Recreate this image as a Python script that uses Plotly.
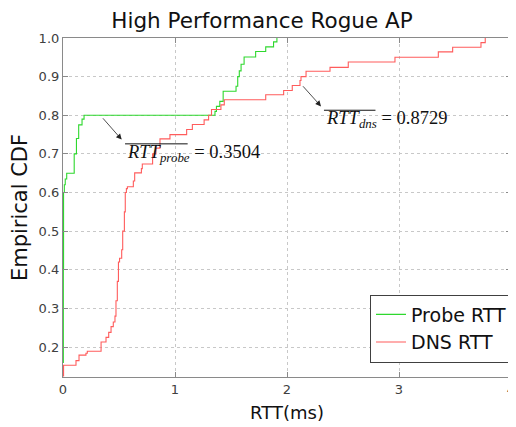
import plotly.graph_objects as go

# Empirical CDF step vertices (x = RTT in ms, y = CDF)
probe_x = [0.000, 0.003, 0.005, 0.012, 0.020, 0.033, 0.100, 0.120, 0.140, 0.170, 0.188,
           1.357, 1.370, 1.400, 1.430, 1.545, 1.560, 1.574, 1.590, 1.617, 1.720, 1.810, 1.880, 1.910]
probe_y = [0.160, 0.400, 0.600, 0.620, 0.635, 0.650, 0.700, 0.740, 0.775, 0.790, 0.800,
           0.810, 0.823, 0.836, 0.862, 0.875, 0.900, 0.915, 0.932, 0.951, 0.965, 0.977, 0.990, 1.000]

dns_x = [0.000, 0.005, 0.116, 0.143, 0.205, 0.217, 0.340, 0.384, 0.408, 0.429, 0.449, 0.464,
         0.473, 0.485, 0.495, 0.505, 0.524, 0.533, 0.548, 0.556, 0.566, 0.575, 0.628, 0.640,
         0.700, 0.708, 0.800, 0.830, 0.866, 0.955, 1.104, 1.155, 1.260, 1.300, 1.326, 1.410,
         1.440, 1.810, 1.970, 2.047, 2.116, 2.125, 2.170, 2.384, 2.547, 2.964, 3.351, 3.479,
         3.732, 3.770]
dns_y = [0.125, 0.153, 0.165, 0.179, 0.184, 0.189, 0.213, 0.225, 0.238, 0.253, 0.265, 0.280,
         0.320, 0.370, 0.420, 0.430, 0.452, 0.500, 0.550, 0.600, 0.610, 0.615, 0.630, 0.651,
         0.662, 0.674, 0.700, 0.715, 0.739, 0.750, 0.763, 0.776, 0.788, 0.800, 0.815, 0.827,
         0.840, 0.853, 0.864, 0.877, 0.890, 0.900, 0.914, 0.924, 0.938, 0.950, 0.964, 0.976,
         0.988, 1.000]

series_names = ["Probe RTT", "DNS RTT"]
title_text = "High Performance Rogue AP"
x_title = "RTT(ms)"
y_title = "Empirical CDF"
mean_probe = 0.3504
mean_dns = 0.8729

FONT = "'DejaVu Sans', sans-serif"
MATH = "'Liberation Serif', 'DejaVu Serif', serif"

fig = go.Figure()
fig.add_trace(go.Scatter(x=probe_x, y=probe_y, mode="lines", line_shape="hv",
                         name=series_names[0], line=dict(color="#2ed82e", width=1.1)))
fig.add_trace(go.Scatter(x=dns_x, y=dns_y, mode="lines", line_shape="hv",
                         name=series_names[1], line=dict(color="#ff5c5c", width=1.1)))

# arrows
fig.add_annotation(x=0.524, y=0.737, ax=0.345, ay=0.796, axref="x", ayref="y",
                   xref="x", yref="y", text="", showarrow=True, arrowhead=2,
                   arrowsize=1.4, arrowwidth=0.8, arrowcolor="#222")
fig.add_annotation(x=2.304, y=0.823, ax=2.131, ay=0.879, axref="x", ayref="y",
                   xref="x", yref="y", text="", showarrow=True, arrowhead=2,
                   arrowsize=1.4, arrowwidth=0.8, arrowcolor="#222")
# texts
fig.add_annotation(x=0.554, y=0.700, xref="x", yref="y", xanchor="left", yanchor="middle",
                   text="<i>RTT<sub>probe</sub></i> = %.4f" % mean_probe, showarrow=False,
                   font=dict(family=MATH, size=18.5, color="#111"))
fig.add_annotation(x=2.33, y=0.789, xref="x", yref="y", xanchor="left", yanchor="middle",
                   text="<i>RTT<sub>dns</sub></i> = %.4f" % mean_dns, showarrow=False,
                   font=dict(family=MATH, size=18.5, color="#111"))
# overlines
fig.add_shape(type="line", x0=0.554, x1=1.113, y0=0.726, y1=0.726, xref="x", yref="y",
              line=dict(color="#111", width=1))
fig.add_shape(type="line", x0=2.33, x1=2.79, y0=0.813, y1=0.813, xref="x", yref="y",
              line=dict(color="#111", width=1))

axis_common = dict(showline=True, mirror="ticks", linecolor="#8a8a8a", linewidth=1.2,
                   ticks="inside", ticklen=5, tickcolor="#8a8a8a",
                   showgrid=True, gridcolor="#c8c8c8", griddash="dot", gridwidth=1,
                   zeroline=False, tickfont=dict(family=FONT, size=13, color="#404040"))

fig.update_xaxes(range=[0, 4], dtick=1, tick0=0,
                 title=dict(text=x_title, font=dict(family=FONT, size=18, color="#111"), standoff=10),
                 **axis_common)
fig.update_yaxes(range=[0.1225, 1.0], dtick=0.1, tick0=0, tickformat=".1f",
                 title=dict(text=y_title, font=dict(family=FONT, size=21, color="#111"), standoff=6),
                 **axis_common)

# the page adds an 8px body margin, so the figure is 8px smaller than the window
fig.update_layout(
    width=508, height=419,
    margin=dict(l=55, r=5, t=30, b=50, autoexpand=False),
    paper_bgcolor="white", plot_bgcolor="white",
    title=dict(text=title_text, x=0.5, xanchor="center", y=1 - 12.5 / 419, yanchor="middle",
               font=dict(family=FONT, size=21.5, color="#111")),
    showlegend=True,
    legend=dict(x=(513 - 63) / 448, y=(377 - 362.5) / 339, xanchor="right", yanchor="bottom",
                bgcolor="white", bordercolor="#404040", borderwidth=1,
                font=dict(family=FONT, size=19, color="#111"), itemwidth=30,
                tracegroupgap=0),
)

fig.write_html("out.html")
